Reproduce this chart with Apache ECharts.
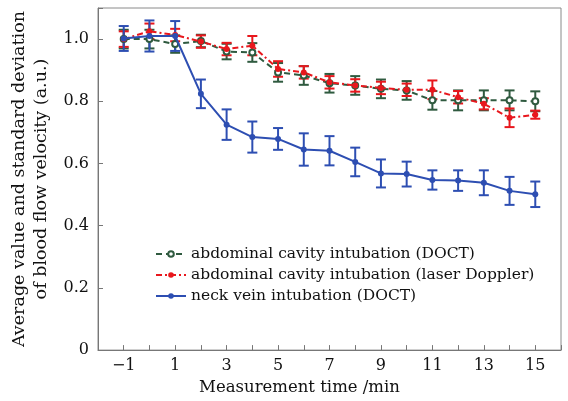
<!DOCTYPE html>
<html>
<head>
<meta charset="utf-8">
<script src="https://cdn.jsdelivr.net/npm/echarts@6/dist/echarts.min.js"></script>
<style>
  html, body { margin: 0; padding: 0; background: #fff; }
  #chart { width: 568px; height: 401px; }
</style>
</head>
<body>
<div id="chart"></div>
<script>
  // measurement times (min)
  const times = [-1, 0, 1, 2, 3, 4, 5, 6, 7, 8, 9, 10, 11, 12, 13, 14, 15];

  // abdominal cavity intubation (DOCT)
  const abdDoctMean = [1.0, 1.0, 0.984, 0.994, 0.96, 0.957, 0.893, 0.883, 0.858, 0.851, 0.84, 0.835, 0.803, 0.803, 0.803, 0.803, 0.80];
  const abdDoctStd = [0.03, 0.03, 0.028, 0.02, 0.025, 0.03, 0.03, 0.03, 0.03, 0.03, 0.03, 0.03, 0.03, 0.032, 0.032, 0.032, 0.032];

  // abdominal cavity intubation (laser Doppler)
  const abdLaserMean = [1.0, 1.025, 1.013, 0.992, 0.968, 0.979, 0.904, 0.893, 0.861, 0.851, 0.843, 0.837, 0.837, 0.813, 0.792, 0.747, 0.757];
  const abdLaserStd = [0.025, 0.025, 0.02, 0.02, 0.02, 0.031, 0.025, 0.02, 0.02, 0.02, 0.02, 0.02, 0.03, 0.02, 0.018, 0.03, 0.013];

  // neck vein intubation (DOCT)
  const neckMean = [1.002, 1.01, 1.01, 0.824, 0.725, 0.685, 0.679, 0.645, 0.641, 0.605, 0.568, 0.566, 0.547, 0.545, 0.538, 0.512, 0.501];
  const neckStd = [0.04, 0.05, 0.048, 0.046, 0.049, 0.05, 0.035, 0.052, 0.047, 0.046, 0.045, 0.04, 0.031, 0.033, 0.04, 0.045, 0.041];

  const seriesNames = [
    'abdominal cavity intubation (DOCT)',
    'abdominal cavity intubation (laser Doppler)',
    'neck vein intubation (DOCT)',
  ];

  const font = 'DejaVu Serif';
  const green = '#2f5a3f';
  const red = '#e8171d';
  const blue = '#2d4eb2';

  function pairs(means) {
    return times.map((t, i) => [t, means[i]]);
  }

  function errorData(means, stds) {
    return times.map((t, i) => [t, means[i] - stds[i], means[i] + stds[i]]);
  }

  // error bars drawn with a custom series, kept out of the legend
  function errorSeries(name, means, stds, color) {
    return {
      name: name + ' sd',
      type: 'custom',
      data: errorData(means, stds),
      silent: true,
      renderItem(params, api) {
        const x = api.value(0);
        const lo = api.coord([x, api.value(1)]);
        const hi = api.coord([x, api.value(2)]);
        const cap = 5;
        const style = { stroke: color, lineWidth: 2 };
        return {
          type: 'group',
          children: [
            { type: 'line', shape: { x1: lo[0], y1: lo[1], x2: hi[0], y2: hi[1] }, style: style },
            { type: 'line', shape: { x1: lo[0] - cap, y1: lo[1], x2: lo[0] + cap, y2: lo[1] }, style: style },
            { type: 'line', shape: { x1: hi[0] - cap, y1: hi[1], x2: hi[0] + cap, y2: hi[1] }, style: style },
          ],
        };
      },
      z: 2,
    };
  }

  const chart = echarts.init(document.getElementById('chart'));
  chart.setOption({
    animation: false,
    textStyle: { fontFamily: font, color: '#111' },
    grid: {
      left: 93,
      right: 7,
      top: 8,
      bottom: 50,
      show: true,
      borderColor: '#8a8a8a',
      borderWidth: 1,
    },
    legend: {
      left: 150,
      top: 241,
      orient: 'vertical',
      itemGap: 5,
      itemWidth: 30,
      itemHeight: 7,
      data: seriesNames,
      textStyle: { fontFamily: font, fontSize: 15.5, color: '#111' },
    },
    xAxis: {
      type: 'value',
      min: -2,
      max: 16,
      interval: 1,
      name: 'Measurement time /min',
      nameLocation: 'middle',
      nameGap: 25,
      nameTextStyle: { fontFamily: font, fontSize: 16.5, color: '#111', padding: [0, 60, 0, 0] },
      splitLine: { show: false },
      axisLine: { onZero: false, lineStyle: { color: '#777' } },
      axisTick: { inside: true, length: 5, lineStyle: { color: '#777' } },
      axisLabel: {
        fontFamily: font,
        fontSize: 16,
        color: '#111',
        margin: 8,
        formatter(v) {
          if (Math.abs(v) % 2 !== 1) return '';
          return v < 0 ? '\u2212' + Math.abs(v) : String(v);
        },
      },
    },
    yAxis: {
      type: 'value',
      min: 0,
      max: 1.1,
      interval: 0.2,
      name: 'Average value and standard deviation\nof blood flow velocity (a.u.)',
      nameLocation: 'middle',
      nameGap: 46,
      nameTextStyle: { fontFamily: font, fontSize: 17.5, color: '#111', lineHeight: 22 },
      splitLine: { show: false },
      axisLine: { show: true, onZero: false, lineStyle: { color: '#777' } },
      axisTick: { show: true, inside: true, length: 5, lineStyle: { color: '#777' } },
      axisLabel: {
        fontFamily: font,
        fontSize: 16,
        color: '#111',
        margin: 9,
        formatter(v) {
          const k = v * 5;
          if (Math.abs(k - Math.round(k)) > 1e-6) return '';
          return v === 0 ? '0' : v.toFixed(1);
        },
      },
    },
    series: [
      errorSeries(seriesNames[0], abdDoctMean, abdDoctStd, green),
      {
        name: seriesNames[0],
        type: 'line',
        data: pairs(abdDoctMean),
        symbol: 'emptyCircle',
        symbolSize: 6,
        itemStyle: { color: green, borderWidth: 1.5 },
        lineStyle: { color: green, width: 2, type: [6, 4] },
        z: 3,
      },
      errorSeries(seriesNames[1], abdLaserMean, abdLaserStd, red),
      {
        name: seriesNames[1],
        type: 'line',
        data: pairs(abdLaserMean),
        symbol: 'circle',
        symbolSize: 6,
        itemStyle: { color: red },
        lineStyle: { color: red, width: 2, type: [6, 3, 2, 3] },
        z: 4,
      },
      errorSeries(seriesNames[2], neckMean, neckStd, blue),
      {
        name: seriesNames[2],
        type: 'line',
        data: pairs(neckMean),
        symbol: 'circle',
        symbolSize: 6,
        itemStyle: { color: blue },
        lineStyle: { color: blue, width: 2 },
        z: 5,
      },
    ],
  });
</script>
</body>
</html>
